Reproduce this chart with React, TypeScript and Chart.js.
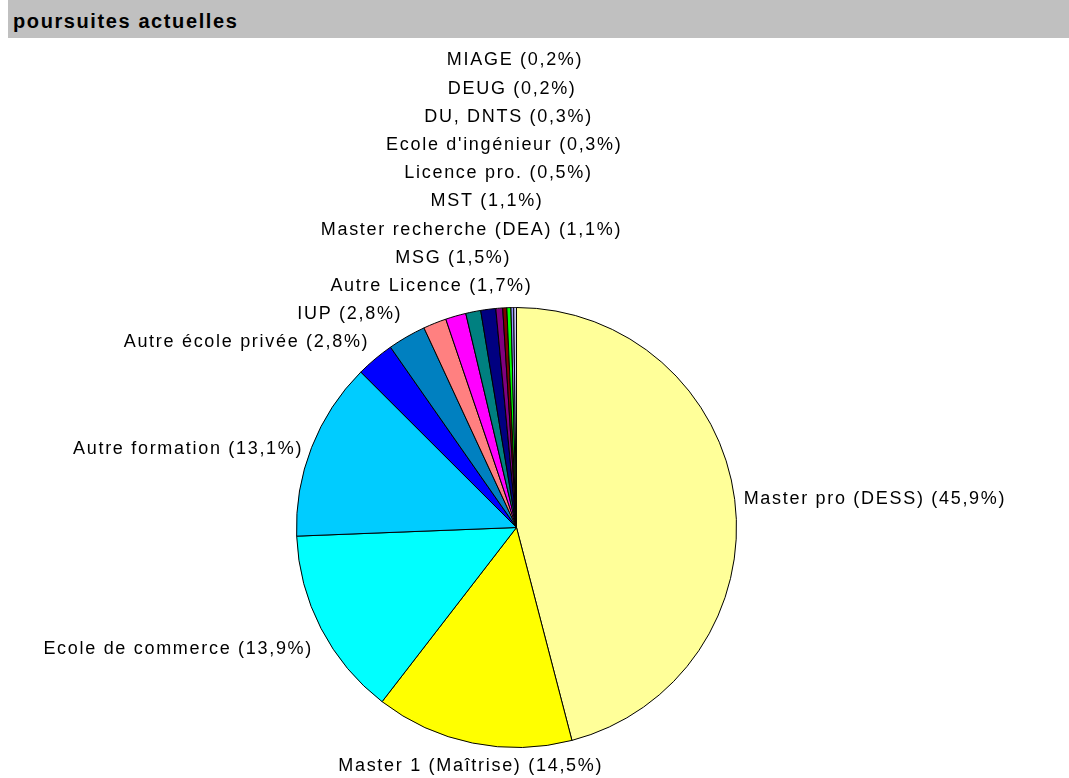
import React, { useEffect, useRef } from "react";
import { Chart, registerables } from "chart.js";

Chart.register(...registerables);

const categories = [
  "Master pro (DESS)",
  "Master 1 (Maîtrise)",
  "Ecole de commerce",
  "Autre formation",
  "Autre école privée",
  "IUP",
  "Autre Licence",
  "MSG",
  "Master recherche (DEA)",
  "MST",
  "Licence pro.",
  "Ecole d'ingénieur",
  "DU, DNTS",
  "DEUG",
  "MIAGE",
];

const shares = [45.9, 14.5, 13.9, 13.1, 2.8, 2.8, 1.7, 1.5, 1.1, 1.1, 0.5, 0.3, 0.3, 0.2, 0.2];

const sliceColors = [
  "#FFFF99",
  "#FFFF00",
  "#00FFFF",
  "#00CCFF",
  "#0000FF",
  "#0080C0",
  "#FF8080",
  "#FF00FF",
  "#008080",
  "#000080",
  "#800080",
  "#800000",
  "#00FF00",
  "#9999FF",
  "#CCCCFF",
];

const titleText = "poursuites actuelles";

const fmt = (v: number) => v.toFixed(1).replace(".", ",") + "%";

const outerLabels = {
  id: "outerLabels",
  afterDatasetsDraw(chart: any) {
    const ctx = chart.ctx as CanvasRenderingContext2D;
    const meta = chart.getDatasetMeta(0);
    const labels: string[] = chart.data.labels;
    const data: number[] = chart.data.datasets[0].data;
    ctx.save();
    ctx.font = '18px "Liberation Sans", Arial, sans-serif';
    (ctx as any).letterSpacing = "1.7px";
    ctx.fillStyle = "#000";
    ctx.textBaseline = "middle";
    const lineH = 28.2;
    const items = meta.data.map((arc: any, i: number) => {
      const p = arc.getProps(["x", "y", "startAngle", "endAngle", "outerRadius"], true);
      const a = (p.startAngle + p.endAngle) / 2;
      const dx = Math.cos(a);
      const dy = Math.sin(a);
      const R = p.outerRadius + 9;
      const ax = p.x + R * dx;
      const ay = p.y + R * dy;
      let align: CanvasTextAlign;
      let ty: number;
      if (dx > 0.4) {
        align = "left";
        ty = ay + 1;
      } else if (dx < -0.4) {
        align = "right";
        ty = dy < 0 ? ay + 18 + 36 * dy : ay + 6 + 22 * dy;
      } else {
        align = "center";
        ty = ay + (dy < 0 ? -14 : 14);
      }
      return { text: `${labels[i]} (${fmt(data[i])})`, x: ax, y: ty, align, dx, dy };
    });
    let prev: number | null = null;
    for (let i = 0; i < items.length; i++) {
      const it = items[i];
      if (it.dx < 0 && it.dy < 0) {
        if (prev !== null && it.y > prev - lineH) it.y = prev - lineH;
        prev = it.y;
      }
    }
    for (const it of items) {
      ctx.textAlign = it.align;
      ctx.fillText(it.text, it.x, it.y);
    }
    ctx.restore();
  },
};

export default function App() {
  const ref = useRef<HTMLCanvasElement | null>(null);
  useEffect(() => {
    if (!ref.current) return;
    const chart = new Chart(ref.current, {
      type: "pie",
      data: {
        labels: categories,
        datasets: [
          {
            data: shares,
            backgroundColor: sliceColors,
            borderColor: "#000",
            borderWidth: 1,
          },
        ],
      },
      options: {
        responsive: false,
        animation: false,
        devicePixelRatio: 1,
        layout: { padding: { left: 296, top: 307, right: 332, bottom: 30 } },
        plugins: {
          legend: { display: false },
          tooltip: { enabled: false },
          title: { display: false },
        },
      },
      plugins: [outerLabels],
    });
    return () => chart.destroy();
  }, []);

  return (
    <div style={{ position: "absolute", left: 0, top: 0, width: 1069, height: 778, background: "#fff", overflow: "hidden" }}>
      <canvas ref={ref} width={1069} height={778} style={{ position: "absolute", left: 0, top: 0, width: 1069, height: 778 }} />
      <div
        style={{
          position: "absolute",
          left: 8,
          top: 0,
          width: 1061,
          height: 38,
          background: "#C0C0C0",
          fontFamily: '"Liberation Sans", Arial, sans-serif',
          fontWeight: "bold",
          fontSize: 20,
          letterSpacing: "1.6px",
          lineHeight: "34px",
          paddingTop: 4,
          paddingLeft: 5,
          boxSizing: "border-box",
          color: "#000",
          whiteSpace: "nowrap",
        }}
      >
        {titleText}
      </div>
    </div>
  );
}
